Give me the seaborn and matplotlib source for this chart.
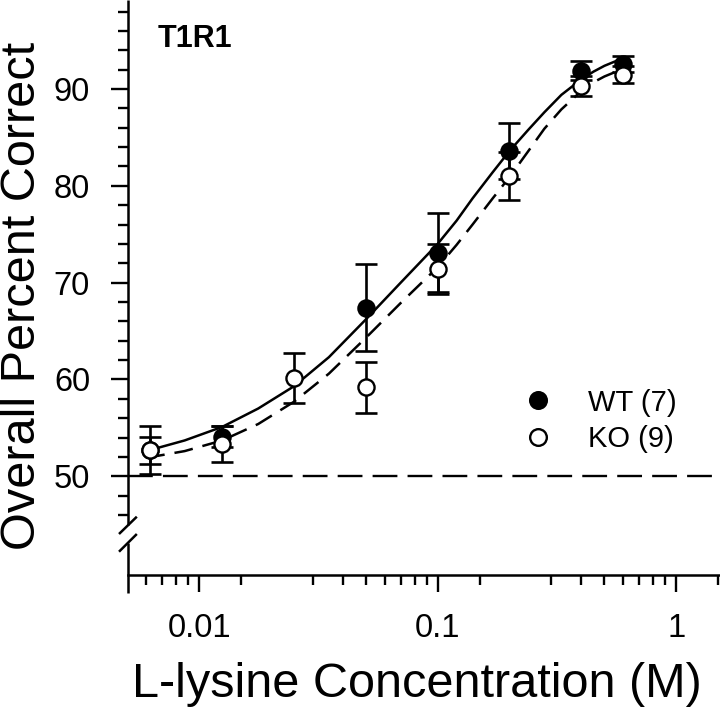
import numpy as np
import matplotlib
matplotlib.use("Agg")
import matplotlib.pyplot as plt
from matplotlib.lines import Line2D
from matplotlib.ticker import FixedLocator, NullFormatter
import seaborn as sns

# concentrations (M) and group means / SEM
conc = [0.00625, 0.0125, 0.025, 0.05, 0.1, 0.2, 0.4, 0.6]
wt_mean = [52.7, 54.1, np.nan, 67.4, 73.1, 83.6, 91.9, 92.6]
wt_sem = [2.5, 1.1, np.nan, 4.5, 4.1, 2.9, 0.95, 0.85]
ko_mean = [52.7, 53.35, 60.15, 59.2, 71.4, 81.0, 90.3, 91.5]
ko_sem = [1.4, 1.85, 2.6, 2.65, 2.6, 2.5, 1.0, 0.9]

# fitted curves
fit_x = [0.006, 0.0087, 0.0125, 0.0177, 0.025, 0.035, 0.05, 0.07, 0.1,
         0.12, 0.14, 0.17, 0.2, 0.24, 0.28, 0.33, 0.4, 0.45, 0.5, 0.56, 0.62]
wt_fit = [52.6, 53.7, 55.1, 57.0, 59.3, 62.3, 66.2, 70.0, 74.0,
          76.4, 78.7, 81.4, 83.6, 85.8, 87.6, 89.4, 91.0, 91.8, 92.4, 92.9, 93.2]
ko_fit = [51.9, 52.6, 53.7, 55.4, 57.7, 60.6, 64.3, 67.9, 71.6,
          73.9, 76.0, 78.7, 80.9, 83.6, 85.9, 87.9, 89.8, 90.7, 91.3, 91.8, 92.1]

x_major = [0.01, 0.1, 1]
x_major_labels = ['0.01', '0.1', '1']
x_minor = [0.006, 0.007, 0.008, 0.009,
           0.015, 0.03, 0.04, 0.05, 0.06, 0.07, 0.08, 0.09,
           0.15, 0.3, 0.4, 0.5, 0.6, 0.7, 0.8, 0.9, 1.5]
y_major = [50, 60, 70, 80, 90]
y_minor = [46, 48, 52, 54, 56, 58, 62, 64, 66, 68, 72, 74, 76, 78,
           82, 84, 86, 88, 92, 94, 96, 98]

sns.set_theme(style="ticks")
plt.rcParams['font.family'] = ['Liberation Sans', 'DejaVu Sans']
plt.rcParams['text.color'] = 'black'
plt.rcParams['axes.labelcolor'] = 'black'
plt.rcParams['xtick.color'] = 'black'
plt.rcParams['ytick.color'] = 'black'

fig = plt.figure(figsize=(7.2, 7.1), dpi=100)
ax = fig.add_axes([128.3 / 720, 1 - 575 / 710, 592 / 720, 575 / 710])

# chance line
ax.axhline(50, color='black', lw=1.7, dashes=(10.5, 4.3), zorder=1)

# fitted curves
sns.lineplot(x=fit_x, y=wt_fit, ax=ax, color='black', lw=1.8, zorder=2)
sns.lineplot(x=fit_x, y=ko_fit, ax=ax, color='black', lw=1.8,
             linestyle=(0, (7.5, 4)), zorder=2)

# error bars
ax.errorbar(conc, wt_mean, yerr=wt_sem, fmt='none', ecolor='black',
            elinewidth=1.9, capsize=8, capthick=1.9, zorder=3)
ax.errorbar(conc, ko_mean, yerr=ko_sem, fmt='none', ecolor='black',
            elinewidth=1.9, capsize=8, capthick=1.9, zorder=3)

# points
sns.scatterplot(x=conc, y=wt_mean, ax=ax, s=135, color='black',
                edgecolor='black', linewidth=1.7, zorder=4)
sns.scatterplot(x=conc, y=ko_mean, ax=ax, s=135, color='white',
                edgecolor='black', linewidth=1.7, zorder=5)

ax.set_xscale('log')
ax.set_xlim(0.00505, 1.53)
ax.set_ylim(39.8, 99.2)

ax.xaxis.set_major_locator(FixedLocator(x_major))
ax.set_xticklabels(x_major_labels)
ax.xaxis.set_minor_locator(FixedLocator(x_minor))
ax.xaxis.set_minor_formatter(NullFormatter())
ax.yaxis.set_major_locator(FixedLocator(y_major))
ax.yaxis.set_minor_locator(FixedLocator(y_minor))

ax.tick_params(which='major', direction='out', length=12.5, width=1.7,
               color='black', labelsize=23.5, pad=15)
ax.tick_params(which='minor', direction='out', length=7, width=1.7,
               color='black')

for side in ['top', 'right', 'left']:
    ax.spines[side].set_visible(False)
ax.spines['bottom'].set_linewidth(1.8)
ax.spines['bottom'].set_color('black')

# left axis drawn by hand with the break
kw = dict(color='black', lw=1.8, transform=ax.transAxes, clip_on=False,
          solid_capstyle='butt')
ax.plot([0, 0], [1.0, 0.0864], **kw)
ax.plot([0, 0], [0.0557, -0.031], **kw)
ax.plot([-0.0157, 0.0144], [0.0713, 0.1014], **kw)
ax.plot([-0.0157, 0.0144], [0.0405, 0.0713], **kw)

ax.set_xlabel('L-lysine Concentration (M)', fontsize=35)
ax.set_ylabel('Overall Percent Correct', fontsize=35)
ax.xaxis.set_label_coords(0.487, -0.152)
ax.yaxis.set_label_coords(-0.14, 0.485)

ax.text(0.049, 0.933, 'T1R1', transform=ax.transAxes, fontsize=22,
        fontweight='bold', ha='left', va='center')

handles = [
    Line2D([], [], marker='o', ls='none', ms=12, mfc='black',
           mec='black', mew=1.7),
    Line2D([], [], marker='o', ls='none', ms=12, mfc='white',
           mec='black', mew=1.7),
]
ax.legend(handles, ['WT (7)', 'KO (9)'], frameon=False, fontsize=21,
          loc='center left', bbox_to_anchor=(0.668, 0.268),
          handlelength=1.0, handletextpad=1.2, labelspacing=0.3,
          borderpad=0, borderaxespad=0)

fig.savefig('out.png', dpi=100)
